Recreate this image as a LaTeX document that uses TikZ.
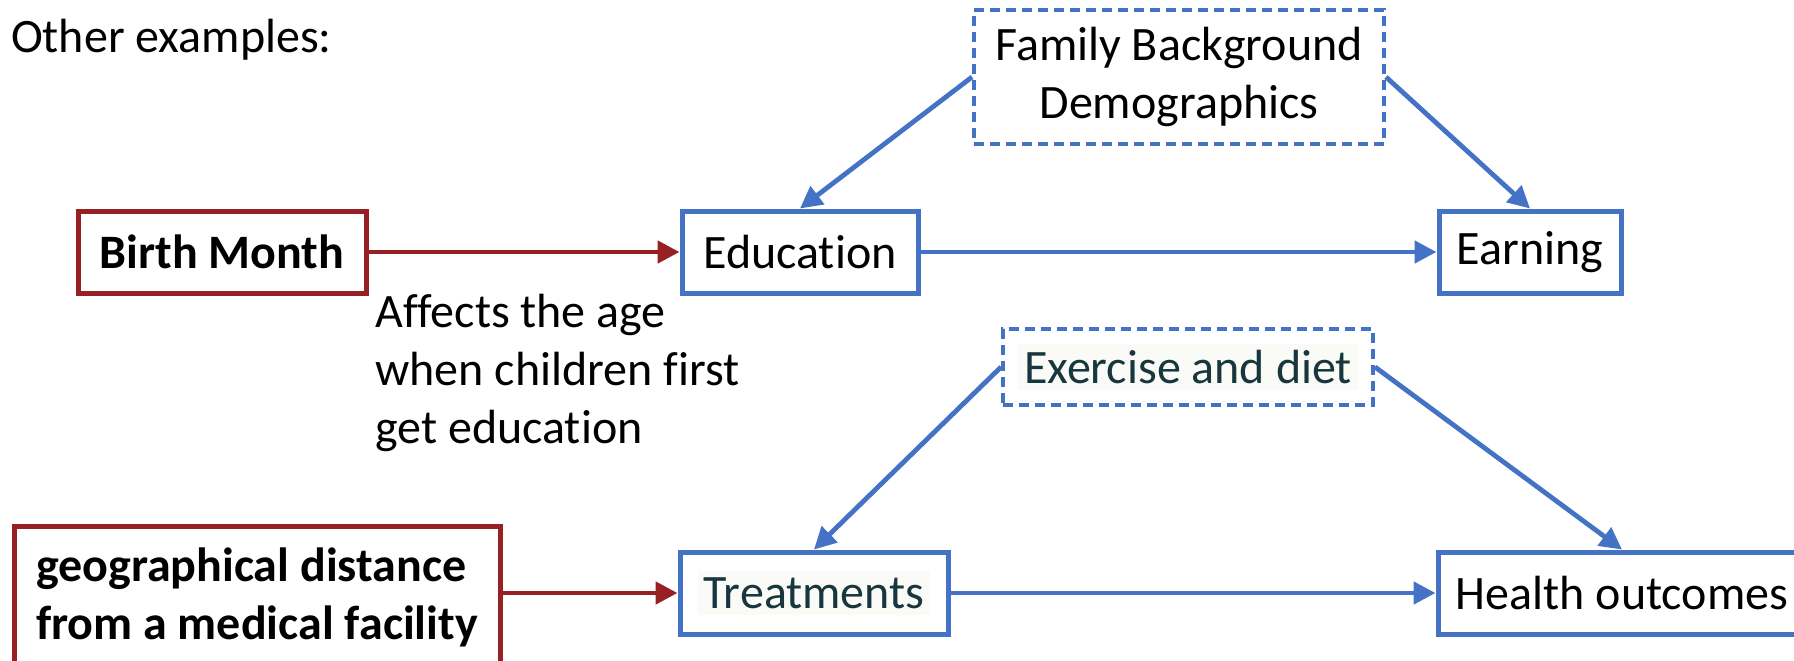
\documentclass[tikz,border=0pt]{standalone}
\usepackage{fontspec}
\setmainfont{Carlito}[Ligatures=NoCommon]
\usetikzlibrary{arrows.meta}

\definecolor{boxblue}{HTML}{4472C4}
\definecolor{boxred}{HTML}{962023}
\definecolor{darkteal}{HTML}{17363D}
\definecolor{textbg}{HTML}{FAFBF7}

\newcommand{\shadedtext}[1]{{\setlength{\fboxsep}{3pt}\colorbox{textbg}{\color{darkteal}#1}}}

\tikzset{
	every node/.style={font=\fontsize{24}{29}\selectfont},
	bluebox/.style={draw=boxblue, line width=2.5pt, minimum height=41pt},
	redbox/.style={draw=boxred, line width=2.5pt, font=\fontsize{24}{29}\selectfont\bfseries},
	hiddenbox/.style={draw=boxblue, line width=2pt, dash pattern=on 5pt off 3pt},
	bluearrow/.style={draw=boxblue, line width=2.4pt, -{Triangle[length=11pt,width=11pt]}},
	redarrow/.style={draw=boxred, line width=2.4pt, -{Triangle[length=11pt,width=11pt]}},
}

\begin{document}
\begin{tikzpicture}[x=0.5pt, y=-0.5pt]
	\useasboundingbox (0,0) rectangle (1794,660);

	\node[anchor=west] (title) at (4,40) {Other examples:};

	% first example
	\node[hiddenbox, minimum width=205pt, minimum height=67pt, align=center] (family) at (1179,77) {Family Background\\Demographics};
	\node[redbox, minimum width=144pt, minimum height=41pt] (birth) at (222,252) {Birth Month};
	\node[bluebox, minimum width=118pt] (edu) at (800,252) {Education};
	\node[bluebox, minimum width=91pt] (earn) at (1530,252) {Earning};
	\node[anchor=north west, align=left, inner sep=0pt] (note) at (375,294) {Affects the age\\when children first\\get education};

	\draw[redarrow] (birth) -- (edu);
	\draw[bluearrow] (edu) -- (earn);
	\draw[bluearrow] (family.west) -- (edu.north);
	\draw[bluearrow] (family.east) -- (earn.north);

	% second example
	\node[hiddenbox, minimum width=185pt, minimum height=38pt] (exer) at (1188,367) {\shadedtext{Exercise and diet}};
	\node[redbox, minimum width=243pt, minimum height=71pt, align=left] (geo) at (257,597) {geographical distance\\from a medical facility};
	\node[bluebox, minimum width=134pt] (treat) at (814,593) {\shadedtext{Treatments}};
	\node[bluebox, minimum width=184pt] (health) at (1622,593) {Health outcomes};

	\draw[redarrow] (geo.east |- treat) -- (treat);
	\draw[bluearrow] (treat) -- (health);
	\draw[bluearrow] (exer.west) -- (treat.north);
	\draw[bluearrow] (exer.east) -- (health.north);
\end{tikzpicture}
\end{document}
